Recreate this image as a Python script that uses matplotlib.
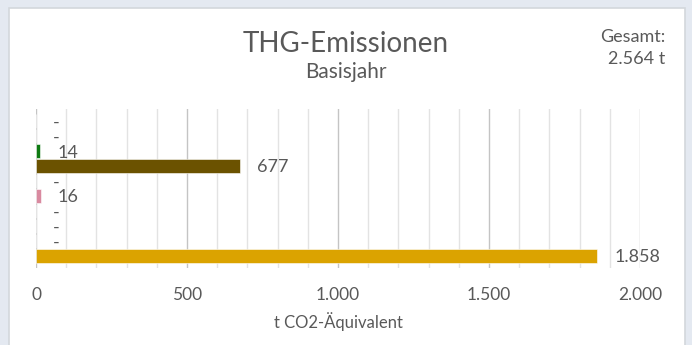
import matplotlib.pyplot as plt
from matplotlib.patches import Rectangle
from matplotlib.ticker import MultipleLocator, FuncFormatter

plt.rcParams['font.family'] = ['Lato', 'DejaVu Sans']

# emissions per source, t CO2-equivalent (base year)
values = [0, 0, 14, 677, 0, 16, 0, 0, 0, 1858]
colors = ['#888888', '#888888', '#0e7a12', '#6b5200', '#888888',
          '#d98aa0', '#888888', '#888888', '#888888', '#dba300']
total = 2564
title = 'THG-Emissionen'
subtitle = 'Basisjahr'
xlabel = 't CO2-Äquivalent'


def de_num(v):
    return f'{v:,.0f}'.replace(',', '.')


text_col = '#595959'
W, H = 692, 345
fig = plt.figure(figsize=(W / 100, H / 100), dpi=100)
fig.patch.set_facecolor('#e4e9f1')

# white card behind everything
card = Rectangle((8.5 / W, -0.05), 676 / W, 1.05 - 8.5 / H,
                 transform=fig.transFigure, facecolor='white',
                 edgecolor='#d3d7dc', linewidth=1.2, zorder=-10)
fig.patches.append(card)

ax = fig.add_axes([36 / W, 1 - 268 / H, (640 - 36) / W, (268 - 109) / H])
ax.set_facecolor('none')
ax.set_zorder(1)

rows = list(range(len(values)))
ax.barh(rows, values, height=0.87, color=colors,
        edgecolor='white', linewidth=0.4, zorder=3)

for r, v in zip(rows, values):
    lab = de_num(v) if v else '-'
    ax.annotate(lab, (v, r), xytext=(17, -1.5), textcoords='offset pixels',
                va='center', ha='left', fontsize=13, color=text_col,
                annotation_clip=False, zorder=4)

ax.set_xlim(0, 2000)
ax.set_ylim(9.8, -0.8)
ax.xaxis.set_major_locator(MultipleLocator(500))
ax.xaxis.set_minor_locator(MultipleLocator(100))
ax.xaxis.set_major_formatter(FuncFormatter(lambda v, p: de_num(v)))
ax.grid(which='minor', axis='x', color='#e3e3e3', linewidth=1, zorder=1)
ax.grid(which='major', axis='x', color='#c4c4c4', linewidth=1, zorder=2)
ax.set_yticks([])
ax.tick_params(axis='x', which='both', length=0, pad=14,
               labelsize=12.5, labelcolor=text_col)
for s in ax.spines.values():
    s.set_visible(False)
ax.set_xlabel(xlabel, fontsize=12, color=text_col, labelpad=6)

fig.text(0.5, 1 - 52 / H, title, ha='center', va='baseline',
         fontsize=20, color=text_col)
fig.text(0.5, 1 - 78 / H, subtitle, ha='center', va='baseline',
         fontsize=15, color=text_col)
fig.text(665 / W, 1 - 42 / H, 'Gesamt:', ha='right', va='baseline',
         fontsize=13, color=text_col)
fig.text(665 / W, 1 - 64 / H, de_num(total) + ' t', ha='right',
         va='baseline', fontsize=13, color=text_col)

fig.savefig('out.png', dpi=100, facecolor=fig.get_facecolor())
